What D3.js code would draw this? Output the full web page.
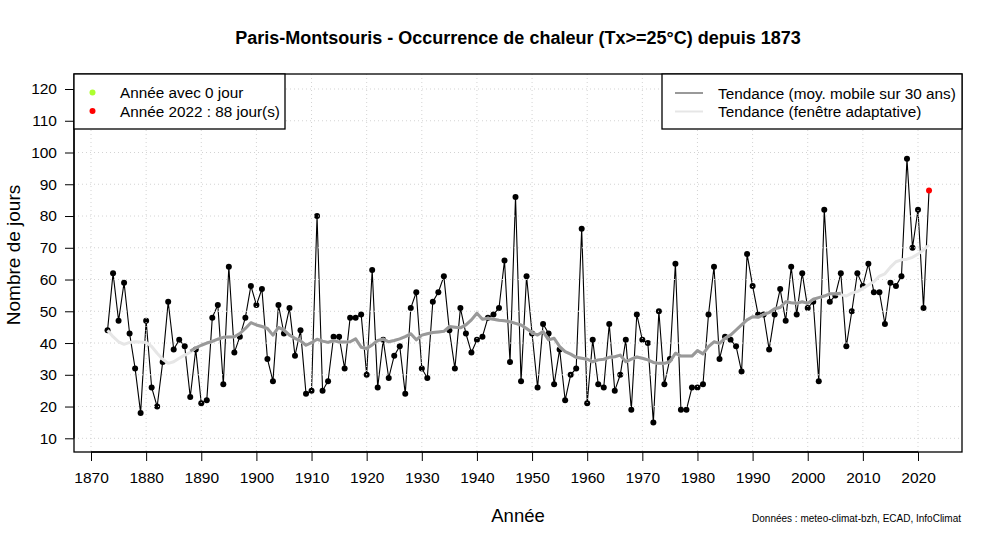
<!DOCTYPE html>
<html><head><meta charset="utf-8">
<script src="https://cdn.jsdelivr.net/npm/d3@7"></script>
<style>body{margin:0;background:#fff}svg{display:block;font-family:"Liberation Sans",Arial,Helvetica,sans-serif}</style>
</head><body><svg id="c" width="1000" height="545"></svg>
<script>
const years = d3.range(1873, 2023);
const days = [44,62,47,59,43,32,18,47,26,20,34,53,38,41,39,23,38,21,22,48,
52,27,64,37,42,48,58,52,57,35,28,52,43,51,36,44,24,25,80,25,
28,42,42,32,48,48,49,30,63,26,41,29,36,39,24,51,56,32,29,53,
56,61,44,32,51,43,37,41,42,48,49,51,66,34,86,28,61,43,26,46,
43,27,38,22,30,32,76,21,41,27,26,46,25,30,41,19,49,41,40,15,
50,27,35,65,19,19,26,26,27,49,64,35,42,41,39,31,68,58,49,49,
38,49,57,47,64,49,62,51,53,28,82,53,55,62,39,50,62,58,65,56,
56,46,59,58,61,98,70,82,51,88];
const maYears = d3.range(1888, 2007);
const maValues = [37.5,38.5,39.3,40.0,40.5,41.2,41.8,41.9,42.0,43.0,44.6,46.4,45.7,45.2,44.6,42.5,44.9,44.1,42.5,41.5,
40.7,39.3,40.1,41.2,40.6,40.2,40.8,40.3,40.3,40.4,41.3,38.7,38.3,39.4,40.8,41.2,40.4,40.8,41.3,42.0,
42.9,41.0,42.5,42.9,43.3,43.5,43.7,45.2,45.0,44.8,45.7,47.3,49.4,47.5,47.8,47.5,47.2,47.0,46.7,46.2,
45.7,44.6,43.3,42.5,43.6,41.0,41.5,38.9,37.3,36.5,35.5,35.2,34.9,34.1,34.7,34.9,35.5,35.7,36.2,34.1,
34.9,35.6,35.2,34.7,33.9,33.6,33.6,34.1,36.8,35.9,35.9,35.9,37.6,36.6,38.9,40.4,39.9,41.5,42.5,44.1,
45.7,47.3,48.3,48.1,49.0,49.6,50.8,51.2,53.0,52.7,52.5,53.0,52.5,53.8,54.3,54.8,55.5,55.5,55.7];
const adaptEarly = [44.0,42.0,40.4,39.6,40.2,40.4,40.3,40.2,38.9,36.8,34.9,33.6,34.1,35.2,36.2,37.1];
const adaptLate = [55.2,54.8,55.7,56.2,57.2,58.3,59.3,61.1,61.8,63.9,65.6,66.2,66.4,67.0,68.0,69.3,70.9];
const adaptValues = adaptEarly.concat(maValues.slice(1, maValues.length - 1), adaptLate);
const xTicks = d3.range(1870, 2021, 10);
const yTicks = d3.range(10, 121, 10);
const legend1 = ["Année avec 0 jour", "Année 2022 : 88 jour(s)"];
const legend2 = ["Tendance (moy. mobile sur 30 ans)", "Tendance (fenêtre adaptative)"];

const svg = d3.select("#c");
const L = 74, R = 962, T = 74, B = 452;
const x = d3.scaleLinear().domain([1870, 2020]).range([91, 918]);
const y = d3.scaleLinear().domain([10, 120]).range([438.3, 89]);

// data line and points
const pts = years.map((yr, i) => [yr, days[i]]);
svg.append("path").datum(pts)
  .attr("d", d3.line().x(d => x(d[0])).y(d => y(d[1])))
  .attr("fill", "none").attr("stroke", "#000").attr("stroke-width", 1.1);
svg.append("g").selectAll("circle").data(pts).join("circle")
  .attr("cx", d => x(d[0])).attr("cy", d => y(d[1])).attr("r", 3)
  .attr("fill", d => d[0] === 2022 ? "#ff0000" : "#000");

// grid (drawn on top, like R grid())
const grid = svg.append("g").attr("stroke", "#d3d3d3").attr("stroke-width", 1).attr("stroke-dasharray", "1,3");
xTicks.forEach(t => grid.append("line").attr("x1", x(t)).attr("x2", x(t)).attr("y1", T).attr("y2", B));
yTicks.forEach(t => grid.append("line").attr("x1", L).attr("x2", R).attr("y1", y(t)).attr("y2", y(t)));

// trends
const adaptPts = years.map((yr, i) => [yr, adaptValues[i]]);
svg.append("path").datum(adaptPts)
  .attr("d", d3.line().x(d => x(d[0])).y(d => y(d[1])))
  .attr("fill", "none").attr("stroke", "#e6e6e6").attr("stroke-width", 3).attr("stroke-linejoin", "round");
const maPts = maYears.map((yr, i) => [yr, maValues[i]]);
svg.append("path").datum(maPts)
  .attr("d", d3.line().x(d => x(d[0])).y(d => y(d[1])))
  .attr("fill", "none").attr("stroke", "#999999").attr("stroke-width", 3).attr("stroke-linejoin", "round");

// box
svg.append("rect").attr("x", L).attr("y", T).attr("width", R - L).attr("height", B - T)
  .attr("fill", "none").attr("stroke", "#000").attr("stroke-width", 1.3);

// axes
const xa = svg.append("g").attr("transform", `translate(0,${B})`)
  .call(d3.axisBottom(x).tickValues(xTicks).tickFormat(d3.format("d")).tickSize(9).tickPadding(11));
xa.select(".domain").attr("d", `M${x(1870)},0H${x(2020)}`).attr("stroke-width", 1.3);
const ya = svg.append("g").attr("transform", `translate(${L},0)`)
  .call(d3.axisLeft(y).tickValues(yTicks).tickSize(9).tickPadding(8));
ya.select(".domain").attr("d", `M0,${y(10)}V${y(120)}`).attr("stroke-width", 1.3);
svg.selectAll(".tick text").attr("font-size", 15.5).attr("fill", "#000").attr("font-family", "Liberation Sans, Arial, sans-serif");
svg.selectAll(".tick line").attr("stroke", "#000");

// titles
svg.append("text").attr("x", 518).attr("y", 43.5).attr("text-anchor", "middle")
  .attr("font-size", 18).attr("font-weight", "bold").text("Paris-Montsouris - Occurrence de chaleur (Tx>=25°C) depuis 1873");
svg.append("text").attr("x", 518).attr("y", 522).attr("text-anchor", "middle")
  .attr("font-size", 18.5).text("Année");
svg.append("text").attr("transform", "translate(20,255) rotate(-90)").attr("text-anchor", "middle")
  .attr("font-size", 19).text("Nombre de jours");
svg.append("text").attr("x", 961).attr("y", 522).attr("text-anchor", "end")
  .attr("font-size", 10).text("Données : meteo-climat-bzh, ECAD, InfoClimat");

// legend 1
svg.append("rect").attr("x", L).attr("y", T).attr("width", 211).attr("height", 55)
  .attr("fill", "#fff").attr("stroke", "#000").attr("stroke-width", 1.3);
const l1colors = ["#adff2f", "#ff0000"];
legend1.forEach((t, i) => {
  svg.append("circle").attr("cx", 92.5).attr("cy", 92.5 + i * 18.5).attr("r", 3).attr("fill", l1colors[i]);
  svg.append("text").attr("x", 120).attr("y", 98 + i * 18.5).attr("font-size", 15.3).text(t);
});
// legend 2
svg.append("rect").attr("x", 662).attr("y", T).attr("width", R - 662).attr("height", 55)
  .attr("fill", "#fff").attr("stroke", "#000").attr("stroke-width", 1.3);
const l2colors = ["#999999", "#e6e6e6"];
legend2.forEach((t, i) => {
  svg.append("line").attr("x1", 675).attr("x2", 703).attr("y1", 93 + i * 18.5).attr("y2", 93 + i * 18.5)
    .attr("stroke", l2colors[i]).attr("stroke-width", 2);
  svg.append("text").attr("x", 718).attr("y", 98.5 + i * 18.5).attr("font-size", 15.3).text(t);
});
</script></body></html>
